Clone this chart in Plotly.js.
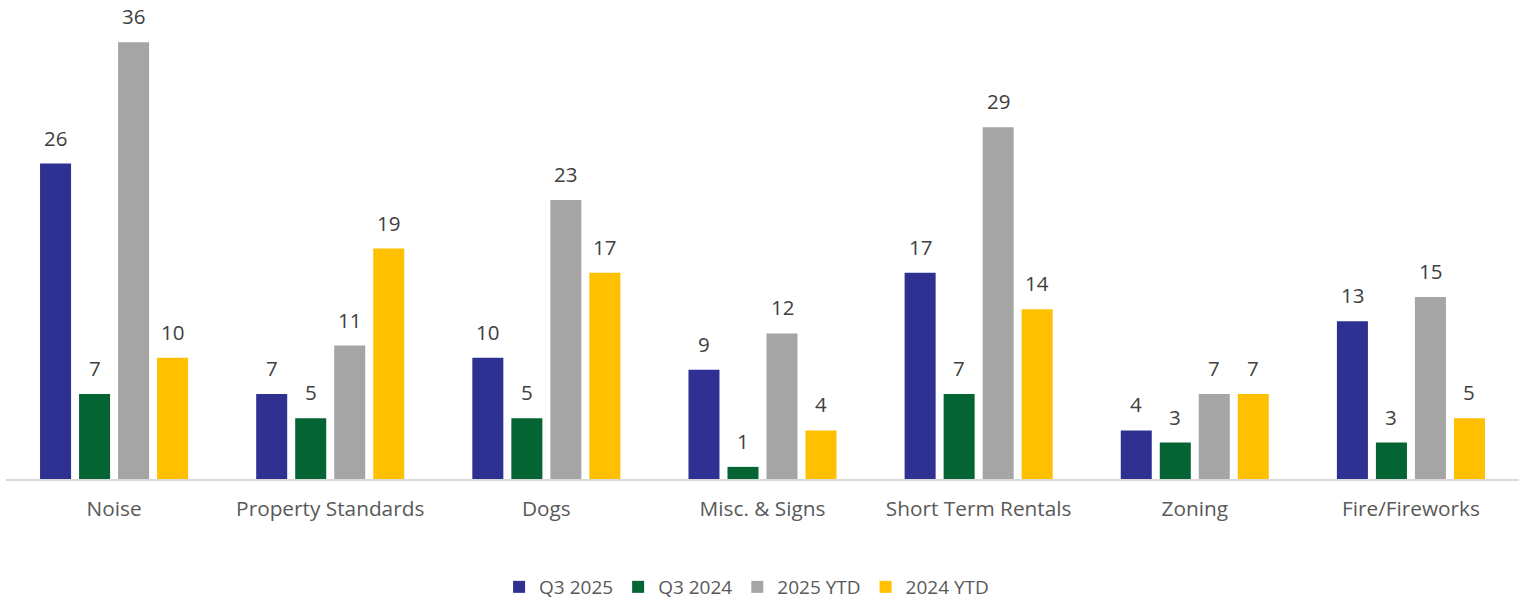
<!DOCTYPE html>
<html>
<head>
<meta charset="utf-8">
<script src="https://cdn.plot.ly/plotly-3.0.1.min.js"></script>
<style>html,body{margin:0;padding:0;background:#fff;}#chart{width:1521px;height:600px;}</style>
</head>
<body>
<div id="chart"></div>
<script>
const categories = ["Noise", "Property Standards", "Dogs", "Misc. & Signs", "Short Term Rentals", "Zoning", "Fire/Fireworks"];
const seriesNames = ["Q3 2025", "Q3 2024", "2025 YTD", "2024 YTD"];
const q3_2025 = [26, 7, 10, 9, 17, 4, 13];
const q3_2024 = [7, 5, 5, 1, 7, 3, 3];
const ytd_2025 = [36, 11, 23, 12, 29, 7, 15];
const ytd_2024 = [10, 19, 17, 4, 14, 7, 5];
const seriesValues = [q3_2025, q3_2024, ytd_2025, ytd_2024];
const colors = ["#2E3192", "#046434", "#A5A5A5", "#FFC000"];

const W = 1521, H = 600;
const margin = {l: 6, r: 2, t: 10, b: 121};
const bargap = 0.278, bargroupgap = 0.205;
const FONT = "Open Sans, sans-serif";

const traces = seriesValues.map((vals, i) => ({
  type: "bar",
  name: seriesNames[i],
  x: categories,
  y: vals,
  marker: {color: colors[i]},
  hoverinfo: "none"
}));

// data labels as annotations, offset to each bar slot
const plotW = W - margin.l - margin.r;
const catPx = plotW / categories.length;
const slot = catPx * (1 - bargap) / seriesValues.length;
const annotations = [];
seriesValues.forEach((vals, i) => {
  vals.forEach((v, j) => {
    annotations.push({
      x: categories[j], y: v, xref: "x", yref: "y",
      text: String(v), showarrow: false,
      xshift: (i - (seriesValues.length - 1) / 2) * slot,
      yshift: 10, yanchor: "bottom",
      font: {family: FONT, size: 20.5, color: "#404040"}
    });
  });
});

const layout = {
  width: W, height: H,
  margin: margin,
  paper_bgcolor: "#fff", plot_bgcolor: "#fff",
  barmode: "group",
  bargap: bargap, bargroupgap: bargroupgap,
  showlegend: true,
  legend: {
    orientation: "h", x: 0.5 - 16 / W, xanchor: "center",
    yref: "container", y: 13 / H, yanchor: "middle",
    font: {family: FONT, size: 19, color: "#595959"},
    itemclick: false, itemdoubleclick: false
  },
  xaxis: {
    type: "category",
    showgrid: false, zeroline: false,
    showline: true, linecolor: "#D9D9D9", linewidth: 1.5,
    ticks: "outside", ticklen: 11, tickcolor: "rgba(0,0,0,0)",
    tickfont: {family: FONT, size: 20.8, color: "#595959"}
  },
  yaxis: {
    range: [0, 38.66],
    visible: false, showgrid: false, zeroline: false
  },
  annotations: annotations,
  font: {family: FONT}
};

Plotly.newPlot("chart", traces, layout, {displayModeBar: false, staticPlot: true});
</script>
</body>
</html>
